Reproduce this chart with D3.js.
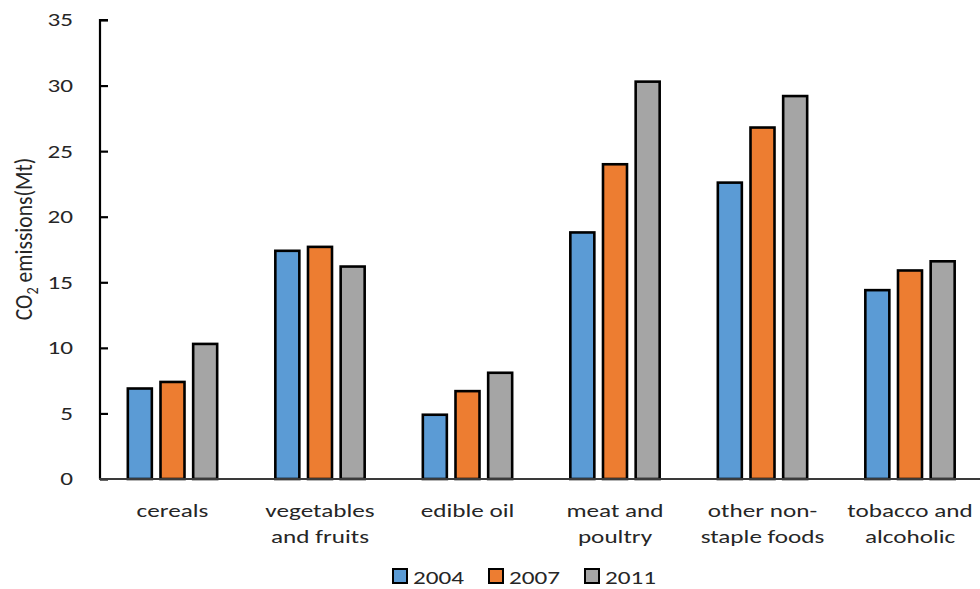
<!DOCTYPE html>
<html>
<head>
<meta charset="utf-8">
<script src="https://cdn.jsdelivr.net/npm/d3@7"></script>
<style>
  html, body { margin: 0; padding: 0; background: #fff; }
  svg { display: block; font-family: Carlito, Calibri, Lato, sans-serif; }
</style>
</head>
<body>
<svg id="chart" width="980" height="589"></svg>
<script>
// Household food consumption CO2 emissions by category
const categories = ["cereals", "vegetables and fruits", "edible oil", "meat and poultry", "other non-staple foods", "tobacco and alcoholic"];
const categoryLines = [["cereals"], ["vegetables", "and fruits"], ["edible oil"], ["meat and", "poultry"], ["other non-", "staple foods"], ["tobacco and", "alcoholic"]];
const years = ["2004", "2007", "2011"];
const values2004 = [6.9, 17.4, 4.9, 18.8, 22.6, 14.4];
const values2007 = [7.4, 17.7, 6.7, 24.0, 26.8, 15.9];
const values2011 = [10.3, 16.2, 8.1, 30.3, 29.2, 16.6];
const yTicks = [0, 5, 10, 15, 20, 25, 30, 35];
const seriesColors = ["#5B9BD5", "#ED7D31", "#A5A5A5"];

const series = [values2004, values2007, values2011];
const rows = categories.map((c, i) => ({ category: c, lines: categoryLines[i], vals: series.map(s => s[i]) }));

const svg = d3.select("#chart");
const SX = 1.4;           // horizontal stretch of the label lettering
const FONT = 18;
const TEXT = "#262626";

const y = d3.scaleLinear().domain([0, 35]).range([479, 20]);
const x = d3.scaleBand().domain(categories).range([98.75, 983.75]).padding(0);
const xs = d3.scaleBand().domain(years).range([-49, 49]).padding(0);
const barW = 24;

// bars
const groups = svg.append("g").selectAll("g").data(rows).join("g")
  .attr("transform", d => `translate(${x(d.category) + x.bandwidth() / 2},0)`);

groups.selectAll("rect").data(d => d.vals.map((v, k) => ({ v, year: years[k], k })))
  .join("rect")
  .attr("x", d => xs(d.year) + xs.bandwidth() / 2 - barW / 2)
  .attr("y", d => y(d.v))
  .attr("width", barW)
  .attr("height", d => y(0) - y(d.v))
  .attr("fill", d => seriesColors[d.k])
  .attr("stroke", "#000")
  .attr("stroke-width", 2.6);

// y axis
const yAxis = svg.append("g").attr("transform", "translate(100,0)")
  .call(d3.axisRight(y).tickValues(yTicks).tickSize(8).tickFormat(""));
yAxis.select(".domain").attr("d", `M8,${y(35)}H0V${y(0)}`).attr("stroke", "#000").attr("stroke-width", 2.2).attr("fill", "none");
yAxis.selectAll(".tick line").attr("stroke", "#000").attr("stroke-width", 2.2);

// x axis baseline
svg.append("line")
  .attr("x1", 99).attr("x2", 980)
  .attr("y1", y(0)).attr("y2", y(0))
  .attr("stroke", "#3a3a3a").attr("stroke-width", 2.2);

// y tick labels
svg.append("g").selectAll("text").data(yTicks).join("text")
  .attr("transform", d => `translate(73,${y(d)}) scale(${SX},1)`)
  .attr("dy", "0.36em")
  .attr("text-anchor", "end")
  .attr("font-size", FONT)
  .attr("fill", TEXT)
  .text(d => d);

// category labels
const catG = svg.append("g").selectAll("g").data(rows).join("g")
  .attr("transform", d => `translate(${x(d.category) + x.bandwidth() / 2},0)`);
catG.selectAll("text").data(d => d.lines).join("text")
  .attr("transform", (d, i) => `translate(0,${517 + i * 26}) scale(${SX},1)`)
  .attr("text-anchor", "middle")
  .attr("font-size", FONT)
  .attr("fill", TEXT)
  .text(d => d);

// y axis title
const title = svg.append("text")
  .attr("transform", `translate(32,239) rotate(-90) scale(1.2,1.4)`)
  .attr("text-anchor", "middle")
  .attr("font-size", FONT)
  .attr("fill", TEXT);
title.append("tspan").text("CO");
title.append("tspan").attr("font-size", FONT * 0.66).attr("dy", 4).text("2");
title.append("tspan").attr("dy", -4).text(" emissions(Mt)");

// legend
const legend = svg.append("g").selectAll("g").data(years).join("g")
  .attr("transform", (d, i) => `translate(${393 + i * 96},569)`);
legend.append("rect")
  .attr("width", 14).attr("height", 14)
  .attr("fill", (d, i) => seriesColors[i])
  .attr("stroke", "#000").attr("stroke-width", 2);
legend.append("text")
  .attr("transform", `translate(20,14.5) scale(${SX},1)`)
  .attr("font-size", FONT)
  .attr("fill", TEXT)
  .text(d => d);
</script>
</body>
</html>
